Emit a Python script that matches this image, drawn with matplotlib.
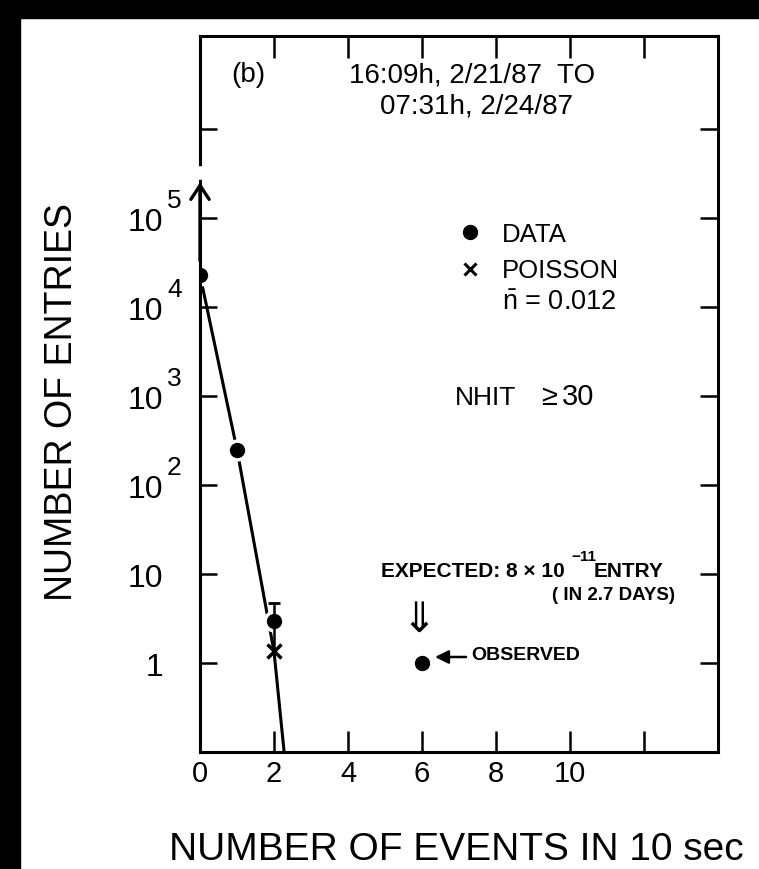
import matplotlib
matplotlib.use("Agg")
import matplotlib.pyplot as plt
from matplotlib.lines import Line2D
from matplotlib.patches import Rectangle
from matplotlib.transforms import blended_transform_factory, offset_copy

W, H = 759, 869

plt.rcParams["font.family"] = ["Liberation Sans", "DejaVu Sans"]
plt.rcParams["mathtext.fontset"] = "custom"
plt.rcParams["mathtext.rm"] = "Liberation Sans"
plt.rcParams["mathtext.it"] = "Liberation Sans:italic"
plt.rcParams["mathtext.bf"] = "Liberation Sans:bold"

# ---- data -------------------------------------------------------------
n_events = [0, 1, 2]
entries = [2.3e4, 2.5e2, 3.0]
entries_err = [0.0, 0.0, 1.73]

poisson_n = [0, 1, 2, 3]
poisson_entries = [2.3e4, 2.5e2, 1.35, 1.0e-4]

observed_n = [6]
observed_entries = [1.0]

x_ticks = [0, 2, 4, 6, 8, 10, 12]
x_ticklabels = ["0", "2", "4", "6", "8", "10", ""]

y_ticks = [1, 10, 1e2, 1e3, 1e4, 1e5, 1e6]
y_tick_base = ["1", "10", "10", "10", "10", "10", ""]
y_tick_exp = ["", "", "2", "3", "4", "5", ""]

# ---- figure -----------------------------------------------------------
fig = plt.figure(figsize=(W / 100, H / 100), dpi=100)
fig.patch.set_facecolor("white")


def fx(x):
    return x / W


def fy(y):
    return 1 - y / H


# dark scan margins along the top and left edges
fig.patches.append(Rectangle((0, fy(18)), 1, 18 / H, transform=fig.transFigure,
                             color="black", zorder=0))
fig.patches.append(Rectangle((0, 0), 20 / W, 1, transform=fig.transFigure,
                             color="black", zorder=0))

ax = fig.add_axes([fx(200), fy(752), 518 / W, 716 / H])
ax.set_yscale("log")
ax.set_xlim(0, 14)
ax.set_ylim(0.1, 1.12e7)

for s in ax.spines.values():
    s.set_linewidth(2.2)

ax.set_xticks(x_ticks)
ax.set_xticklabels(x_ticklabels, fontsize=21)
ax.set_yticks(y_ticks)
ax.set_yticklabels([])
ax.yaxis.set_minor_locator(matplotlib.ticker.NullLocator())
ax.tick_params(axis="x", which="both", direction="in", bottom=True, top=True,
               length=15, width=1.8, pad=6)
ax.tick_params(axis="y", which="both", direction="in", left=True, right=True,
               length=12, width=1.8)
for t in ax.xaxis.get_major_ticks():
    t.tick2line.set_markersize(16)
for t in ax.yaxis.get_major_ticks():
    t.tick2line.set_markersize(13)

# y tick labels: "10" with a raised exponent
ytrans = blended_transform_factory(fig.transFigure, ax.transData)
for val, base, ex in zip(y_ticks, y_tick_base, y_tick_exp):
    if base:
        ax.text(fx(163), val, base, fontsize=23, ha="right", va="baseline",
                transform=offset_copy(ytrans, fig, y=-13, units="dots"),
                clip_on=False)
    if ex:
        ax.text(fx(167), val, ex, fontsize=19, ha="left", va="baseline",
                transform=offset_copy(ytrans, fig, y=10, units="dots"),
                clip_on=False)

# Poisson expectation line, broken around the data dots
ax.plot(poisson_n, poisson_entries, color="black", lw=2.2, zorder=2)
ax.plot(n_events, entries, "o", ms=15, color="white", mec="white", zorder=2.3)
ax.plot(poisson_n[2:3], poisson_entries[2:3], "x", ms=10, mew=2.5,
        color="black", zorder=3.5)

# statistical error bar with upper cap
ax.errorbar(n_events, entries, yerr=[entries_err, entries_err], fmt="none",
            ecolor="black", elinewidth=1.8, capsize=0, zorder=3)
ax.plot([n_events[2]], [entries[2] + entries_err[2]], marker="_", ms=8, mew=2,
        color="black", zorder=3)

ax.plot(n_events, entries, "o", ms=10, color="black", zorder=4)
ax.plot(observed_n, observed_entries, "o", ms=10, color="black", zorder=4,
        clip_on=False)

# first bin is a lower limit
ax.annotate("", xy=(0, entries[0] * 11), xytext=(0, entries[0] * 1.45),
            arrowprops=dict(arrowstyle="->,head_length=0.5,head_width=0.33",
                            mutation_scale=20, lw=2.4, color="black",
                            shrinkA=0, shrinkB=0),
            annotation_clip=False, zorder=5)
ax.plot([0, 0], [entries[0] * 12.5, entries[0] * 15.5], color="white", lw=4,
        clip_on=False, zorder=6)

# ---- annotations ------------------------------------------------------
fig.text(fx(248), fy(82), "(b)", fontsize=20, ha="center", va="baseline")
fig.text(fx(472), fy(83), "16:09h, 2/21/87  TO", fontsize=20, ha="center",
         va="baseline")
fig.text(fx(476), fy(113), "07:31h, 2/24/87", fontsize=20, ha="center",
         va="baseline")

fig.add_artist(Line2D([fx(470)], [fy(232)], marker="o", ms=10, color="black",
                      transform=fig.transFigure))
fig.add_artist(Line2D([fx(470)], [fy(269)], marker="x", ms=8.5, mew=2.2,
                      color="black", transform=fig.transFigure))
fig.text(fx(502), fy(242), "DATA", fontsize=18.5, va="baseline")
fig.text(fx(502), fy(278), "POISSON", fontsize=18.5, va="baseline")
fig.text(fx(502), fy(310), r"$\bar{\mathregular{n}}$ = 0.012", fontsize=19.5,
         va="baseline")
fig.text(fx(455), fy(405), "NHIT", fontsize=19, va="baseline")
fig.text(fx(549), fy(405), "\u2265", fontsize=21, ha="center", va="baseline")
fig.text(fx(562), fy(405), "30", fontsize=21, va="baseline")

fig.text(fx(381), fy(577), "EXPECTED: 8 \u00d7 10", fontsize=15,
         fontweight="bold", va="baseline")
fig.text(fx(571), fy(561), "\u221211", fontsize=11, fontweight="bold",
         va="baseline")
fig.text(fx(594), fy(577), "ENTRY", fontsize=15, fontweight="bold",
         va="baseline")
fig.text(fx(552), fy(600), "( IN 2.7 DAYS)", fontsize=13.5, fontweight="bold",
         va="baseline")

fig.text(fx(419), fy(620), "\u21d3", fontsize=30, ha="center", va="center",
         family="DejaVu Sans")
ax.annotate("", xy=(435, H - 657), xytext=(466, H - 657),
            xycoords="figure pixels", textcoords="figure pixels",
            arrowprops=dict(arrowstyle="-|>,head_length=0.5,head_width=0.25",
                            mutation_scale=16, lw=1.8, color="black",
                            shrinkA=0, shrinkB=0))
fig.text(fx(471), fy(660), "OBSERVED", fontsize=14, fontweight="bold",
         va="baseline")

# axis titles
fig.text(fx(456), fy(860), "NUMBER OF EVENTS IN 10 sec", fontsize=28,
         ha="center", va="baseline")
fig.text(fx(62), fy(402), "NUMBER OF ENTRIES", fontsize=27, rotation=90,
         ha="center", va="center")

fig.savefig("out.png", dpi=100)
